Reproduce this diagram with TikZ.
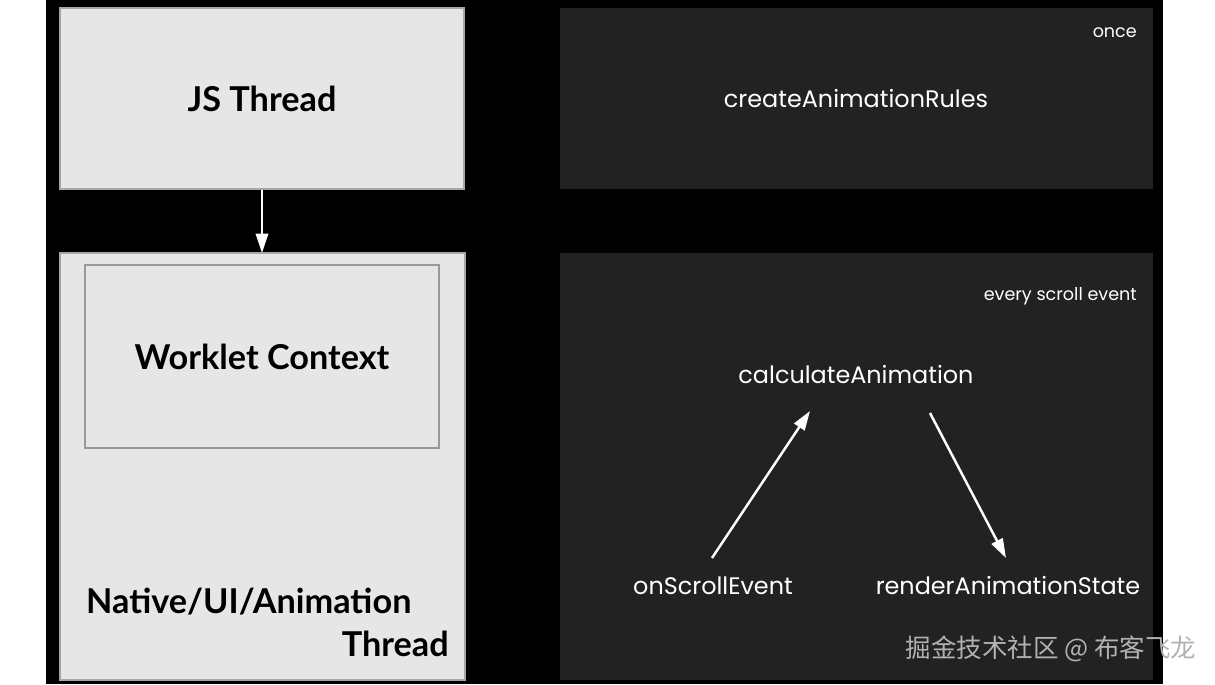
\documentclass[tikz,border=0pt]{standalone}
\usepackage{fontspec}
\setmainfont{Lato}
\newfontfamily\popfont{Poppins}
\newfontfamily\cjk{Noto Sans CJK SC}
\usetikzlibrary{arrows.meta}
\definecolor{panel}{HTML}{E6E6E6}
\definecolor{darkpanel}{HTML}{222222}
\tikzset{
  threadbox/.style={fill=panel,draw=gray!70,line width=0.6pt},
  rulebox/.style={fill=darkpanel,draw=none},
  fn/.style={text=white,font=\popfont\fontsize{13.6}{16}\selectfont},
  tag/.style={text=white,font=\popfont\fontsize{10}{12}\selectfont,anchor=north east},
  big/.style={font=\bfseries\fontsize{19.5}{24}\selectfont},
  flow/.style={-{Triangle[width=7pt,length=11pt]},white,line width=1.4pt}
}
\begin{document}
\begin{tikzpicture}[x=0.02cm,y=-0.02cm]
\useasboundingbox (0,0) rectangle (1215,684);
\fill[black] (46,0) rectangle (1163,684);
% left column
\draw[threadbox] (60,8) rectangle (464,189);
\node[big] (js) at (262,99) {JS Thread};
\draw[threadbox] (60,253) rectangle (465,680);
\draw[gray!80,line width=0.6pt] (85,265) rectangle (439,448);
\node[big] (worklet) at (262,357) {Worklet Context};
\node[big,anchor=west] (native) at (80,602) {Native/UI/Animation};
\node[big,anchor=east] (native2) at (455,644) {Thread};
\coordinate (jsbot) at (262,190);
\coordinate (nattop) at (262,253);
\draw[flow] (jsbot) -- (nattop);
% right column
\fill[rulebox] (560,8) rectangle (1153,189);
\node[tag] (once) at (1143,21) {once};
\node[fn] (create) at (856,99) {createAnimationRules};
\fill[rulebox] (560,253) rectangle (1153,680);
\node[tag] (every) at (1143,281) {every scroll event};
\node[fn] (calc) at (856,375) {calculateAnimation};
\node[fn] (scroll) at (713,586) {onScrollEvent};
\node[fn] (render) at (1008,586) {renderAnimationState};
\coordinate (s1) at (712,558);
\coordinate (c1) at (810,411);
\coordinate (c2) at (930,413);
\coordinate (r1) at (1006,558);
\draw[flow] (s1) -- (c1);
\draw[flow] (c2) -- (r1);
\node[text=gray!60,font=\cjk\fontsize{14.5}{17}\selectfont] (mark) at (1051,649) {掘金技术社区 @ 布客飞龙};
\end{tikzpicture}
\end{document}
